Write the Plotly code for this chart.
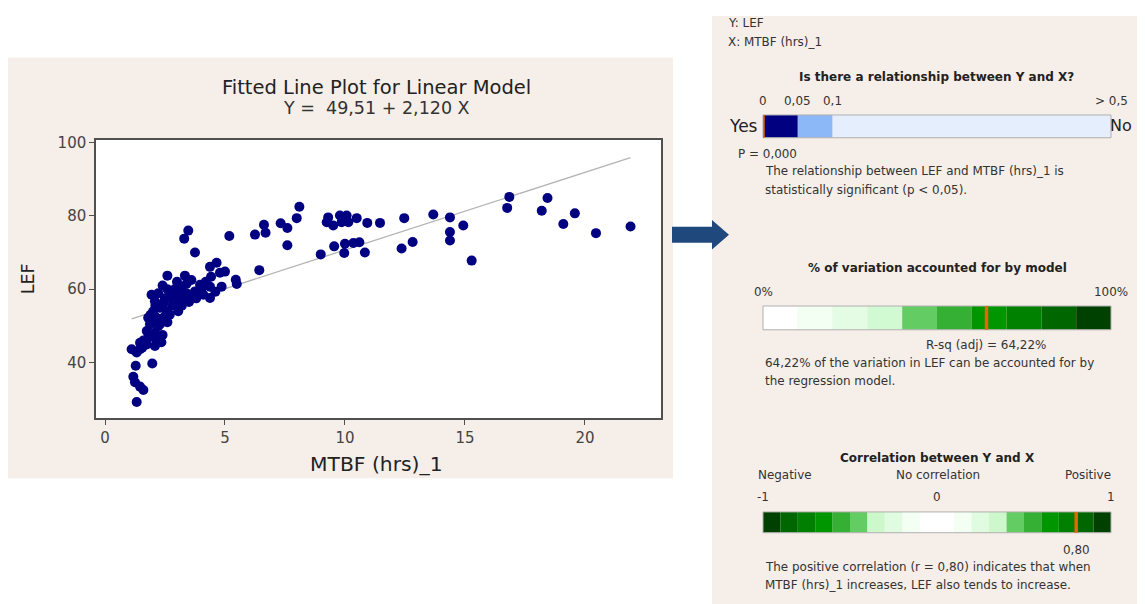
import plotly.graph_objects as go

# ---------------- data ----------------
mtbf = [1.32, 1.60, 1.46, 1.25, 1.18, 1.28, 1.97, 1.11, 1.32, 1.46, 1.46, 1.74, 2.08, 1.80, 2.15,
        1.74, 2.08, 1.875, 2.22, 1.80, 2.15, 2.43, 2.01, 2.29, 2.57, 3.05, 2.08, 2.43, 2.92, 3.26,
        1.94, 2.22, 2.70, 3.05, 3.40, 3.75, 4.03, 4.375, 4.375, 2.40, 2.60, 3.33, 3.60, 3.96, 4.86,
        4.42, 4.79, 4.375, 4.65, 3.75, 3.30, 3.47, 5.49, 6.43, 5.18, 6.25, 6.625, 6.69, 7.32, 7.60,
        7.99, 8.10, 7.60, 9.30, 9.24, 9.51, 9.79, 10.07, 9.86, 10.14, 10.49, 10.93, 11.46, 8.99, 9.55,
        9.97, 10.00, 10.35, 10.60, 10.83, 12.47, 13.68, 14.375, 14.93, 14.375, 14.375, 15.28, 12.36, 12.82,
        16.85, 16.76, 18.44, 18.20, 19.58, 19.10, 20.46, 21.90,
        2.50, 2.80, 2.60, 2.30, 2.00, 2.40, 1.95, 2.70, 3.20, 3.50, 3.80, 4.10, 2.90, 3.20, 2.10,
        1.90, 2.60, 3.00, 3.40, 4.20, 1.60, 1.55, 2.35, 5.00, 3.65, 2.75, 4.60, 5.45]
lef = [29.2, 32.5, 33.4, 34.6, 36.1, 39.1, 39.7, 43.6, 42.7, 43.6, 45.4, 44.9, 44.5, 46.8, 46.3,
       48.6, 48.1, 50.4, 49.9, 52.2, 52.2, 52.2, 54.0, 54.9, 54.0, 54.0, 56.7, 56.2, 56.7, 57.1,
       58.5, 58.9, 58.9, 58.5, 58.9, 59.4, 60.3, 60.7, 57.6, 61.0, 63.7, 63.7, 62.5, 61.2, 60.7,
       63.4, 64.5, 66.1, 67.2, 70.0, 73.8, 76.0, 61.4, 65.2, 74.5, 74.9, 77.6, 75.4, 78.0, 76.7,
       79.4, 82.5, 72.0, 79.6, 78.3, 77.4, 80.1, 80.1, 78.3, 78.3, 79.4, 78.1, 78.1, 69.5, 71.7,
       69.9, 72.4, 72.6, 72.8, 70.0, 79.4, 80.4, 79.6, 77.4, 75.6, 73.3, 67.8, 71.1, 72.9,
       85.2, 82.2, 84.9, 81.4, 80.7, 77.8, 75.3, 77.1,
       57.5, 55.5, 51.0, 50.5, 51.5, 47.5, 47.0, 53.0, 55.5, 56.5, 57.5, 58.5, 60.0, 60.5, 55.5,
       53.0, 60.0, 62.0, 61.5, 62.0, 46.0, 44.0, 45.5, 64.8, 58.2, 57.5, 59.3, 62.6]

intercept = 49.51
slope = 2.120
x_ticks = [0, 5, 10, 15, 20]
y_ticks = [40, 60, 80, 100]

# p-value bar (positional scale)
p_starts = [0, 1, 2]
p_widths = [1, 1, 8]
p_colors = ["#000080", "#8cb8f8", "#e4eefc"]
p_tick_pos = [0, 1, 2, 10]
p_tick_text = ["0", "0,05", "0,1", "&gt; 0,5"]
p_value_pos = 0

# R-sq bar
rsq_starts = [0, 10, 20, 30, 40, 50, 60, 70, 80, 90]
rsq_widths = [10, 10, 10, 10, 10, 10, 10, 10, 10, 10]
rsq_colors = ["#ffffff", "#f3fff3", "#e3fce3", "#d2fad2", "#63cc63",
              "#35b035", "#009600", "#008200", "#006600", "#004000"]
rsq_tick_pos = [0, 100]
rsq_tick_text = ["0%", "100%"]
rsq_adj = 64.22

# correlation bar
corr_starts = [-1.0, -0.9, -0.8, -0.7, -0.6, -0.5, -0.4, -0.3, -0.2, -0.1,
               0.0, 0.1, 0.2, 0.3, 0.4, 0.5, 0.6, 0.7, 0.8, 0.9]
corr_widths = [0.1] * 20
corr_colors = ["#004000", "#006600", "#007f00", "#009600", "#35b035", "#63cc63", "#ccf8cc",
               "#e0fce0", "#f2fff2", "#ffffff", "#ffffff", "#f2fff2", "#e0fce0", "#ccf8cc",
               "#63cc63", "#35b035", "#009600", "#007f00", "#006600", "#004000"]
corr_tick_pos = [-1, 0, 1]
corr_tick_text = ["-1", "0", "1"]
r_value = 0.80

# ---------------- layout helpers ----------------
OFF = 8                          # default body margin of the page
W, H = 1145 - OFF, 604 - OFF     # figure reaches the window's right / bottom edge
FONT = "DejaVu Sans"
BEIGE = "#f6eee8"
ORANGE = "#e8630a"
TXT = 11.95
BOLD = 12


def px(X):
    return (X - OFF) / W


def py(Y):
    return 1 - (Y - OFF) / H


fig = go.Figure()
x_fit = [min(mtbf), max(mtbf)]
y_fit = [intercept + slope * v for v in x_fit]
fig.add_trace(go.Scatter(x=x_fit, y=y_fit, mode="lines", line=dict(color="#b4b4b4", width=1.3),
                         xaxis="x", yaxis="y", hoverinfo="skip", showlegend=False))
fig.add_trace(go.Scatter(x=mtbf, y=lef, mode="markers", marker=dict(size=10, color="#000080"),
                         xaxis="x", yaxis="y", hoverinfo="x+y", showlegend=False))

bar_dom_x = [px(763), px(1111)]


def add_bar(starts, widths, colors, xa, ya):
    fig.add_trace(go.Bar(x=widths, base=starts, y=[0] * len(starts), orientation="h",
                         width=1, marker=dict(color=colors, line=dict(width=0)),
                         xaxis=xa, yaxis=ya, hoverinfo="skip", showlegend=False))


add_bar(p_starts, p_widths, p_colors, "x2", "y2")
add_bar(rsq_starts, rsq_widths, rsq_colors, "x3", "y3")
add_bar(corr_starts, corr_widths, corr_colors, "x4", "y4")

bar_x_common = dict(domain=bar_dom_x, showgrid=False, zeroline=False, showline=False,
                    showticklabels=False, ticks="", fixedrange=True)
bar_y_common = dict(range=[-0.5, 0.5], visible=False, fixedrange=True)

axis_col = "#505050"
fig.update_layout(
    width=W, height=H, margin=dict(l=0, r=0, t=0, b=0),
    paper_bgcolor="white", plot_bgcolor="white", barmode="overlay", showlegend=False,
    font=dict(family=FONT, color="#333333"),
    xaxis=dict(domain=[px(96), px(661)], range=[-0.375, 23.17], anchor="y",
               tickvals=x_ticks, showgrid=False, zeroline=False,
               showline=True, mirror=True, linecolor=axis_col, linewidth=1.5,
               ticks="outside", ticklen=5, tickcolor=axis_col, tickwidth=1,
               tickfont=dict(family=FONT, size=15, color="#444444")),
    yaxis=dict(domain=[py(416), py(135)], range=[24.86, 100.81], anchor="x",
               tickvals=y_ticks, showgrid=False, zeroline=False,
               showline=True, mirror=True, linecolor=axis_col, linewidth=1.5,
               ticks="outside", ticklen=5, tickcolor=axis_col, tickwidth=1,
               tickfont=dict(family=FONT, size=15, color="#444444")),
    xaxis2=dict(anchor="y2", range=[0, 10], **bar_x_common),
    yaxis2=dict(anchor="x2", domain=[py(133), py(110)], **bar_y_common),
    xaxis3=dict(anchor="y3", range=[0, 100], **bar_x_common),
    yaxis3=dict(anchor="x3", domain=[py(327), py(303)], **bar_y_common),
    xaxis4=dict(anchor="y4", range=[-1, 1], **bar_x_common),
    yaxis4=dict(anchor="x4", domain=[py(532), py(511)], **bar_y_common),
)

shapes = []
shapes.append(dict(type="rect", xref="paper", yref="paper", x0=px(7), x1=px(673), y0=py(477), y1=py(52),
                   fillcolor=BEIGE, line=dict(width=0), layer="below"))
shapes.append(dict(type="rect", xref="paper", yref="paper", x0=px(712), x1=1, y0=0, y1=py(10),
                   fillcolor=BEIGE, line=dict(width=0), layer="below"))
shapes.append(dict(type="rect", xref="x domain", yref="y domain", x0=0, x1=1, y0=0, y1=1,
                   fillcolor="white", line=dict(width=0), layer="below"))
for n in ["2", "3", "4"]:
    shapes.append(dict(type="rect", xref=f"x{n} domain", yref=f"y{n} domain", x0=0, x1=1, y0=0, y1=1,
                       line=dict(color="#b0b0b0", width=1), fillcolor="rgba(0,0,0,0)", layer="above"))
shapes.append(dict(type="line", xref="x2", yref="y2", x0=p_value_pos, x1=p_value_pos, y0=-0.72, y1=0.63,
                   line=dict(color=ORANGE, width=3.5)))
shapes.append(dict(type="line", xref="x3", yref="y3", x0=rsq_adj, x1=rsq_adj, y0=-0.75, y1=0.75,
                   line=dict(color=ORANGE, width=3.5)))
shapes.append(dict(type="line", xref="x4", yref="y4", x0=r_value, x1=r_value, y0=-0.79, y1=0.79,
                   line=dict(color=ORANGE, width=3.5)))
ax = [672, 712, 712, 729, 712, 712, 672]
ay = [223, 223, 216, 231, 246, 239, 239]
path = "M " + " L ".join(f"{px(a)},{py(b)}" for a, b in zip(ax, ay)) + " Z"
shapes.append(dict(type="path", xref="paper", yref="paper", path=path, fillcolor="#1f497d", line=dict(width=0)))
fig.update_layout(shapes=shapes)

ann = []


def text(x, y, s, size=TXT, anchor="left", bold=False, color="#333333", xref="paper", angle=0, xshift=0):
    ann.append(dict(x=x if xref != "paper" else px(x), y=py(y), xref=xref, yref="paper",
                    text=f"<b>{s}</b>" if bold else s, showarrow=False,
                    xanchor=anchor, yanchor="middle", textangle=angle, xshift=xshift,
                    font=dict(family=FONT, size=size, color=color)))


# left panel
text(376, 82, "Fitted Line Plot for Linear Model", size=19.5, anchor="center", color="#222222")
text(376, 103, "Y =  49,51 + 2,120 X", size=17.5, anchor="center", color="#333333")
text(28, 276, "LEF", size=17.5, anchor="center", color="#222222", angle=-90)
text(376, 463, "MTBF (hrs)_1", size=20.3, anchor="center", color="#222222")

# right panel
text(726, 17, "Y: LEF")
text(726, 36, "X: MTBF (hrs)_1")
text(936, 72, "Is there a relationship between Y and X?", size=BOLD, anchor="center", bold=True, color="#222222")
for pos, lab in zip(p_tick_pos, p_tick_text):
    text(pos, 96, lab, anchor="center", xref="x2")
text(760, 121, "Yes", size=17, anchor="right", color="#222222")
text(1134, 121, "No", size=16, anchor="right", color="#222222")
text(p_value_pos, 149, "P = 0,000", anchor="center", xref="x2", xshift=4)
text(763, 167, "The relationship between LEF and MTBF (hrs)_1 is")
text(763, 186, "statistically significant (p &lt; 0,05).")

text(937, 265, "% of variation accounted for by model", size=BOLD, anchor="center", bold=True, color="#222222")
for pos, lab in zip(rsq_tick_pos, rsq_tick_text):
    text(pos, 289, lab, anchor="center", xref="x3")
text(rsq_adj, 342, "R-sq (adj) = 64,22%", anchor="center", xref="x3")
text(763, 361, "64,22% of the variation in LEF can be accounted for by")
text(763, 379, "the regression model.")

text(937, 457, "Correlation between Y and X", size=BOLD, anchor="center", bold=True, color="#222222")
text(756, 474, "Negative", anchor="left")
text(938, 474, "No correlation", anchor="center")
text(1113, 474, "Positive", anchor="right")
for pos, lab in zip(corr_tick_pos, corr_tick_text):
    text(pos, 496, lab, anchor="center", xref="x4")
text(r_value, 549, "0,80", anchor="center", xref="x4")
text(763, 567, "The positive correlation (r = 0,80) indicates that when")
text(763, 585, "MTBF (hrs)_1 increases, LEF also tends to increase.")
fig.update_layout(annotations=ann)

fig.write_html("out.html")
